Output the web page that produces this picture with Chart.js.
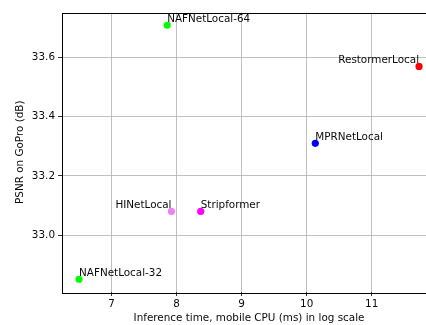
<!DOCTYPE html>
<html>
<head>
<meta charset="utf-8">
<script src="https://cdn.jsdelivr.net/npm/chart.js@4.4.1/dist/chart.umd.min.js"></script>
<style>
  html, body { margin: 0; padding: 0; background: #fff; overflow: hidden; width: 426px; height: 325px; }
  #wrap { width: 440px; height: 325px; }
</style>
</head>
<body>
<div id="wrap"><canvas id="c" width="440" height="325"></canvas></div>
<script>
// Data
const models = ["NAFNetLocal-64", "RestormerLocal", "MPRNetLocal", "HINetLocal", "Stripformer", "NAFNetLocal-32"];
const inferenceTime = [7.854, 11.729, 10.133, 7.920, 8.370, 6.498];
const psnr = [33.709, 33.570, 33.310, 33.080, 33.080, 32.851];
const xTickValues = [7, 8, 9, 10, 11];
const yTickValues = [33.0, 33.2, 33.4, 33.6];

// Styles
const pointColors = ["#00ff00", "#ff0000", "#0000ff", "#ee82ee", "#ff00ff", "#00ff00"];
const labelAlign = ["left", "right", "left", "right", "left", "left"];
const FONT = "DejaVu Sans";
const FS = 10.4;

const datasets = models.map((m, i) => ({
  label: m,
  data: [{ x: inferenceTime[i], y: psnr[i] }],
  backgroundColor: pointColors[i],
  borderColor: pointColors[i],
  borderWidth: 0,
  pointRadius: 3.6,
  pointHoverRadius: 3.6
}));

const framePlugin = {
  id: 'frame',
  afterDatasetsDraw(chart) {
    const ctx = chart.ctx;
    const a = chart.chartArea;
    ctx.save();
    // annotations
    ctx.font = FS + "px '" + FONT + "'";
    ctx.fillStyle = "#0a0a0a";
    ctx.textBaseline = "alphabetic";
    chart.data.datasets.forEach((ds, i) => {
      const el = chart.getDatasetMeta(i).data[0];
      ctx.textAlign = labelAlign[i];
      ctx.fillText(ds.label, el.x, el.y - 3.5);
    });
    // frame
    ctx.strokeStyle = "#000";
    ctx.lineWidth = 1;
    ctx.strokeRect(Math.round(a.left) + 0.5, Math.round(a.top) + 0.5,
                   Math.round(a.right - a.left), Math.round(a.bottom - a.top));
    // axis titles
    ctx.textAlign = "center";
    ctx.textBaseline = "middle";
    ctx.fillText("Inference time, mobile CPU (ms) in log scale", (a.left + a.right) / 2, 318.5);
    ctx.translate(20, (a.top + a.bottom) / 2);
    ctx.rotate(-Math.PI / 2);
    ctx.fillText("PSNR on GoPro (dB)", 0, 0);
    ctx.restore();
  }
};

new Chart(document.getElementById('c'), {
  type: 'scatter',
  data: { datasets },
  options: {
    responsive: false,
    devicePixelRatio: 1,
    animation: false,
    events: [],
    layout: { padding: { top: 12.5, right: 4, left: 0, bottom: 0 } },
    plugins: { legend: { display: false }, tooltip: { enabled: false } },
    scales: {
      x: {
        type: 'linear',
        min: 6.236,
        max: 11.99,
        afterBuildTicks: s => { s.ticks = xTickValues.map(v => ({ value: v })); },
        afterFit: s => { s.height = 33; },
        grid: { color: '#b0b0b0', lineWidth: 0.8, tickColor: '#000', tickLength: 4, drawTicks: true },
        border: { display: false },
        ticks: {
          font: { family: FONT, size: FS }, color: '#0a0a0a', padding: 2,
          maxRotation: 0, autoSkip: false,
          callback: v => String(v)
        }
      },
      y: {
        type: 'linear',
        min: 32.808,
        max: 33.752,
        afterBuildTicks: s => { s.ticks = yTickValues.map(v => ({ value: v })); },
        afterFit: s => { s.width = 62; },
        grid: { color: '#b0b0b0', lineWidth: 0.8, tickColor: '#000', tickLength: 4, drawTicks: true },
        border: { display: false },
        ticks: {
          font: { family: FONT, size: FS }, color: '#0a0a0a', padding: 3,
          autoSkip: false,
          callback: v => Number(v).toFixed(1)
        }
      }
    }
  },
  plugins: [framePlugin]
});
</script>
</body>
</html>
